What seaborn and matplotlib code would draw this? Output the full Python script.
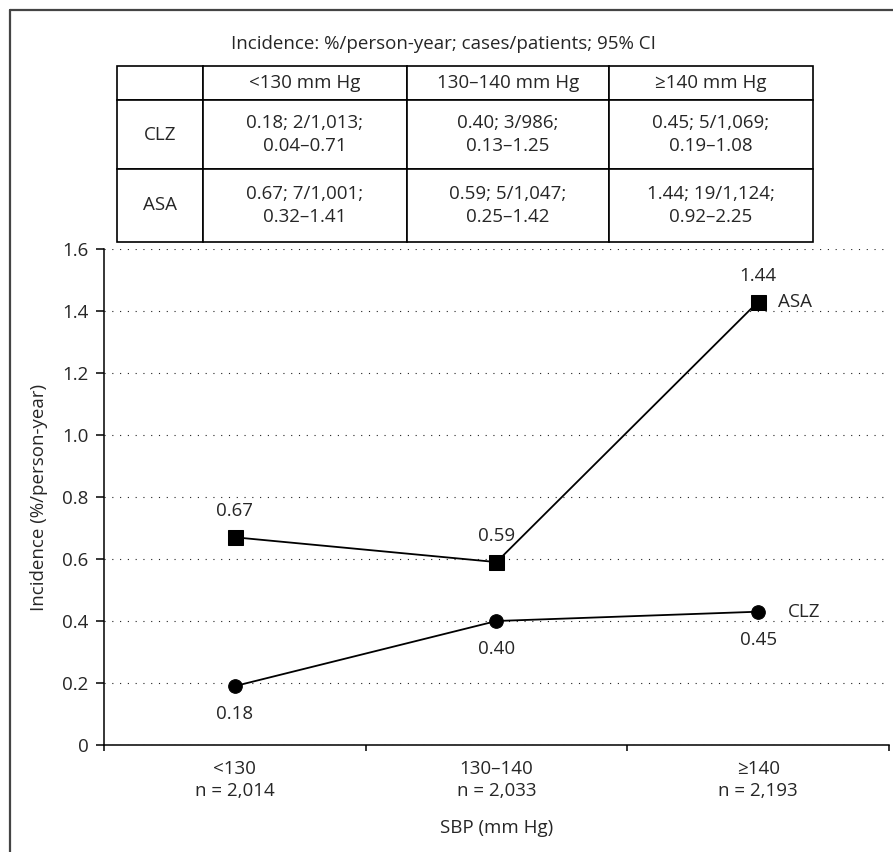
import numpy as np
import pandas as pd
import matplotlib.pyplot as plt
import seaborn as sns
from matplotlib.lines import Line2D

sns.set_style('ticks')
plt.rcParams['font.family'] = ['Open Sans', 'DejaVu Sans']
FS = 13.5

# chart data
categories = ['<130', '130–140', '≥140']
group_n = ['2,014', '2,033', '2,193']
clz_values = [0.19, 0.40, 0.43]
asa_values = [0.67, 0.59, 1.43]
clz_labels = ['0.18', '0.40', '0.45']
asa_labels = ['0.67', '0.59', '1.44']
y_ticks = [0, 0.2, 0.4, 0.6, 0.8, 1.0, 1.2, 1.4, 1.6]

# table data
table_title = 'Incidence: %/person-year; cases/patients; 95% CI'
table_header = ['', '<130 mm Hg', '130–140 mm Hg', '≥140 mm Hg']
table_clz = ['CLZ', '0.18; 2/1,013;\n0.04–0.71', '0.40; 3/986;\n0.13–1.25', '0.45; 5/1,069;\n0.19–1.08']
table_asa = ['ASA', '0.67; 7/1,001;\n0.32–1.41', '0.59; 5/1,047;\n0.25–1.42', '1.44; 19/1,124;\n0.92–2.25']

W, H = 893, 852
fig = plt.figure(figsize=(W / 100, H / 100), dpi=100)


def px_box(x0, y0, x1, y1):
    return [x0 / W, 1 - y1 / H, (x1 - x0) / W, (y1 - y0) / H]


# outer frame (cut at right and bottom)
fig.add_artist(Line2D([10 / W, 10 / W], [0, 1 - 10 / H], color='#444444', lw=1.6))
fig.add_artist(Line2D([10 / W, 1], [1 - 10 / H, 1 - 10 / H], color='#444444', lw=1.6))

# line chart
ax = fig.add_axes(px_box(104, 249, 889, 745))
df = pd.DataFrame({'pos': np.arange(len(categories)), 'CLZ': clz_values, 'ASA': asa_values})
sns.lineplot(data=df, x='pos', y='ASA', marker='s', markersize=10.8, color='black',
             markeredgecolor='black', lw=1.3, ax=ax)
sns.lineplot(data=df, x='pos', y='CLZ', marker='o', markersize=9.8, color='black',
             markeredgecolor='black', lw=1.3, ax=ax)

for i, (v, lab) in enumerate(zip(asa_values, asa_labels)):
    ax.annotate(lab, (i, v), xytext=(0, 26), textcoords='offset pixels',
                ha='center', va='center', fontsize=FS)
for i, (v, lab) in enumerate(zip(clz_values, clz_labels)):
    ax.annotate(lab, (i, v), xytext=(0, -28), textcoords='offset pixels',
                ha='center', va='center', fontsize=FS)
ax.annotate('ASA', (len(categories) - 1, asa_values[-1]), xytext=(20, 0),
            textcoords='offset pixels', ha='left', va='center', fontsize=FS)
ax.annotate('CLZ', (len(categories) - 1, clz_values[-1]), xytext=(30, 0),
            textcoords='offset pixels', ha='left', va='center', fontsize=FS)

ax.set_xlim(-0.5, len(categories) - 0.5)
ax.set_ylim(0, 1.6)
ax.set_yticks(y_ticks)
ax.set_yticklabels(['0' if t == 0 else f'{t:.1f}' for t in y_ticks], fontsize=FS)
ax.yaxis.grid(True, linestyle=(0, (1, 6)), color='#222222', lw=0.8)

ax.set_xticks(np.arange(len(categories) + 1) - 0.5)
ax.set_xticklabels([])
ax.set_xticks(np.arange(len(categories)), minor=True)
ax.set_xticklabels([f'{c}\nn = {n}' for c, n in zip(categories, group_n)], minor=True,
                   fontsize=FS, linespacing=1.35)
ax.tick_params(axis='x', which='major', direction='out', length=4.5, width=1.1, color='black')
ax.tick_params(axis='x', which='minor', length=0, pad=10.5)
ax.tick_params(axis='y', direction='out', length=5.5, width=1.1, color='black', pad=5.5)

sns.despine(ax=ax)
for s in ['left', 'bottom']:
    ax.spines[s].set_color('black')
    ax.spines[s].set_linewidth(1.1)

ax.set_xlabel('SBP (mm Hg)', fontsize=FS)
ax.set_ylabel('Incidence (%/person-year)', fontsize=FS)
ax.xaxis.set_label_coords(0.5, -(819 - 745) / 496)
ax.yaxis.set_label_coords(-(104 - 48) / 785, 0.5)

# table above the chart
fig.text(443 / W, 1 - 44 / H, table_title, ha='center', va='center', fontsize=FS)
tax = fig.add_axes(px_box(117, 66, 813, 242))
tax.axis('off')
col_w = np.array([86, 204, 202, 204]) / 696
tbl = tax.table(cellText=[table_header, table_clz, table_asa], colWidths=list(col_w),
                cellLoc='center', bbox=[0, 0, 1, 1])
tbl.auto_set_font_size(False)
tbl.set_fontsize(FS)
row_h = [34, 69, 73]
for (r, c), cell in tbl.get_celld().items():
    cell.set_height(row_h[r] / 176)
    cell.set_linewidth(1.2)
    cell.set_edgecolor('black')
    cell.get_text().set_multialignment('center')
    cell.get_text().set_linespacing(1.3)

fig.savefig('out.png', dpi=100)
